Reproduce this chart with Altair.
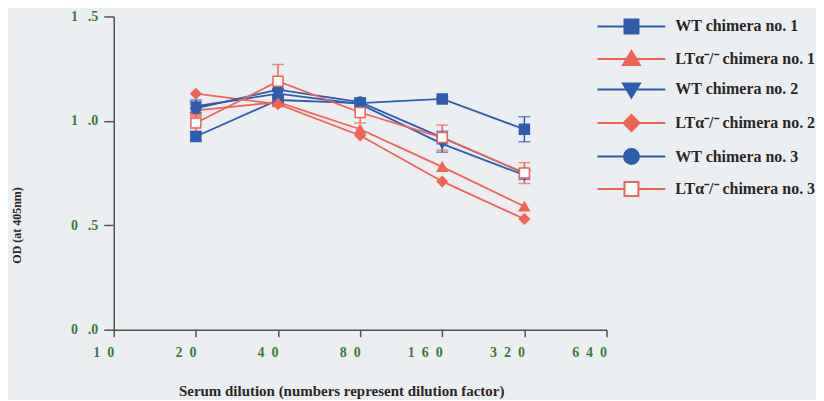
import altair as alt
import pandas as pd

# ---- data ----
dilutions = [20, 40, 80, 160, 320]
series_names = [
    "WT chimera no. 1",
    "LTα⁻/⁻ chimera no. 1",
    "WT chimera no. 2",
    "LTα⁻/⁻ chimera no. 2",
    "WT chimera no. 3",
    "LTα⁻/⁻ chimera no. 3",
]
wt1 = [0.925, 1.10, 1.085, 1.105, 0.96]
lt1 = [1.05, 1.09, 0.96, 0.78, 0.59]
wt2 = [1.07, 1.13, 1.08, 0.89, 0.74]
lt2 = [1.13, 1.08, 0.93, 0.71, 0.53]
wt3 = [1.06, 1.15, 1.09, 0.92, 0.75]
lt3 = [0.99, 1.19, 1.04, 0.92, 0.75]

wt1_err = [0.02, 0.02, 0.02, 0.01, 0.06]
lt1_err = [0.03, 0.02, 0.0, 0.0, 0.0]
wt2_err = [0.03, 0.02, 0.02, 0.04, 0.02]
lt2_err = [0.0, 0.0, 0.0, 0.0, 0.0]
wt3_err = [0.02, 0.03, 0.02, 0.03, 0.02]
lt3_err = [0.04, 0.08, 0.05, 0.06, 0.05]

x_ticks = [10, 20, 40, 80, 160, 320, 640]
y_ticks = [0.0, 0.5, 1.0, 1.5]

BLUE = "#2e5cae"
RED = "#f06455"
colors = [BLUE, RED, BLUE, RED, BLUE, RED]
fills = [BLUE, RED, BLUE, RED, BLUE, "#ffffff"]
marker_shapes = ["square", "triangle-up", "triangle-down", "diamond", "circle", "square"]
legend_shapes = [
    "M-3.4,0H-0.7M0.7,0H3.4M-0.7,-0.7H0.7V0.7H-0.7Z",
    "M-3.4,0H3.4M0,-0.8L0.85,0.6H-0.85Z",
    "M-3.4,0H3.4M0,0.8L0.85,-0.6H-0.85Z",
    "M-3.4,0H3.4M0,-0.8L0.8,0L0,0.8L-0.8,0Z",
    "M-3.4,0H3.4M0.75,0A0.75,0.75,0,1,1,-0.75,0A0.75,0.75,0,1,1,0.75,0Z",
    "M-3.4,0H-0.7M0.7,0H3.4M-0.7,-0.7H0.7V0.7H-0.7Z",
]

values = [wt1, lt1, wt2, lt2, wt3, lt3]
errs = [wt1_err, lt1_err, wt2_err, lt2_err, wt3_err, lt3_err]
rows = []
for name, vals, ers in zip(series_names, values, errs):
    for d, v, e in zip(dilutions, vals, ers):
        rows.append({"series": name, "dilution": d, "od": v, "err": e})
df = pd.DataFrame(rows)

SERIF = "Liberation Serif"
GREEN = "#3d7a3d"
DARK = "#2a2624"
AXIS = "#4d554d"

x_enc = alt.X(
    "dilution:Q",
    scale=alt.Scale(type="log", base=2, domain=[10, 640], padding=0, nice=False),
    axis=alt.Axis(
        values=x_ticks,
        format="d",
        labelExpr="join(split(datum.label, ''), '\u2002')",
        title="Serum dilution (numbers represent dilution factor)",
        titleX=228,
        titleY=61,
        titleBaseline="middle",
        titleFont=SERIF,
        titleFontSize=15,
        titleFontWeight="bold",
        titleColor=DARK,
        labelFont=SERIF,
        labelFontSize=14,
        labelFontWeight="bold",
        labelColor=GREEN,
        labelPadding=9,
        labelAlign="right",
        tickSize=7,
        tickWidth=1.5,
        tickColor=AXIS,
        domainColor=AXIS,
        domainWidth=1.5,
        grid=False,
        labelFlush=False,
    ),
)
y_enc = alt.Y(
    "od:Q",
    scale=alt.Scale(domain=[0, 1.5], padding=0, nice=False),
    axis=alt.Axis(
        values=y_ticks,
        labelExpr="replace(format(datum.value, '.1f'), '.', '\u2002\u2009.')",
        title="OD (at 405nm)",
        titleAngle=270,
        titleX=-97,
        titleY=209,
        titleBaseline="middle",
        titleAlign="center",
        titleFont=SERIF,
        titleFontSize=12,
        titleFontWeight="bold",
        titleColor=DARK,
        labelFont=SERIF,
        labelFontSize=14,
        labelFontWeight="bold",
        labelColor=GREEN,
        labelPadding=6,
        tickSize=10,
        tickWidth=1.5,
        tickColor=AXIS,
        domainColor=AXIS,
        domainWidth=1.5,
        grid=False,
        labelFlush=False,
    ),
)

color_enc = alt.Color("series:N", scale=alt.Scale(domain=series_names, range=colors), legend=None)

base = alt.Chart(df)

lines = base.mark_line(strokeWidth=1.8).encode(x=x_enc, y=y_enc, color=color_enc)

err_base = base.transform_filter("datum.err > 0").transform_calculate(
    lo="datum.od - datum.err", hi="datum.od + datum.err"
)
err_rules = err_base.mark_rule(strokeWidth=1.5).encode(
    x="dilution:Q", y="lo:Q", y2="hi:Q", color=color_enc
)
cap_lo = err_base.mark_tick(orient="horizontal", size=12, thickness=1.5).encode(
    x="dilution:Q", y="lo:Q", color=color_enc
)
cap_hi = err_base.mark_tick(orient="horizontal", size=12, thickness=1.5).encode(
    x="dilution:Q", y="hi:Q", color=color_enc
)

points = base.mark_point(size=100, strokeWidth=1.5, opacity=1).encode(
    x="dilution:Q",
    y="od:Q",
    shape=alt.Shape("series:N", scale=alt.Scale(domain=series_names, range=marker_shapes), legend=None),
    fill=alt.Fill("series:N", scale=alt.Scale(domain=series_names, range=fills), legend=None),
    stroke=alt.Stroke("series:N", scale=alt.Scale(domain=series_names, range=colors), legend=None),
)

leg = alt.Legend(
    orient="none",
    legendX=508,
    legendY=-1,
    title=None,
    padding=0,
    labelFont=SERIF,
    labelFontSize=16,
    labelFontWeight="bold",
    labelColor=DARK,
    labelOffset=33,
    symbolSize=400,
    symbolStrokeWidth=2,
    rowPadding=9.6,
)

legend_layer = base.transform_filter("false").mark_point(opacity=1, strokeWidth=2).encode(
    x="dilution:Q",
    y="od:Q",
    shape=alt.Shape("series:N", scale=alt.Scale(domain=series_names, range=legend_shapes), legend=leg),
    fill=alt.Fill("series:N", scale=alt.Scale(domain=series_names, range=fills), legend=leg),
    stroke=alt.Stroke("series:N", scale=alt.Scale(domain=series_names, range=colors), legend=leg),
)

chart = (
    alt.layer(lines, err_rules, cap_lo, cap_hi, points, legend_layer)
    .resolve_scale(shape="independent", fill="independent", stroke="independent")
    .properties(
        width=494,
        height=314,
        autosize=alt.AutoSizeParams(type="none"),
        padding={"left": 106, "top": 8, "right": 210, "bottom": 70},
        background="#eceff2",
    )
    .configure_view(stroke=None)
)

chart.save("out.html", embed_options={"renderer": "svg", "actions": False})
